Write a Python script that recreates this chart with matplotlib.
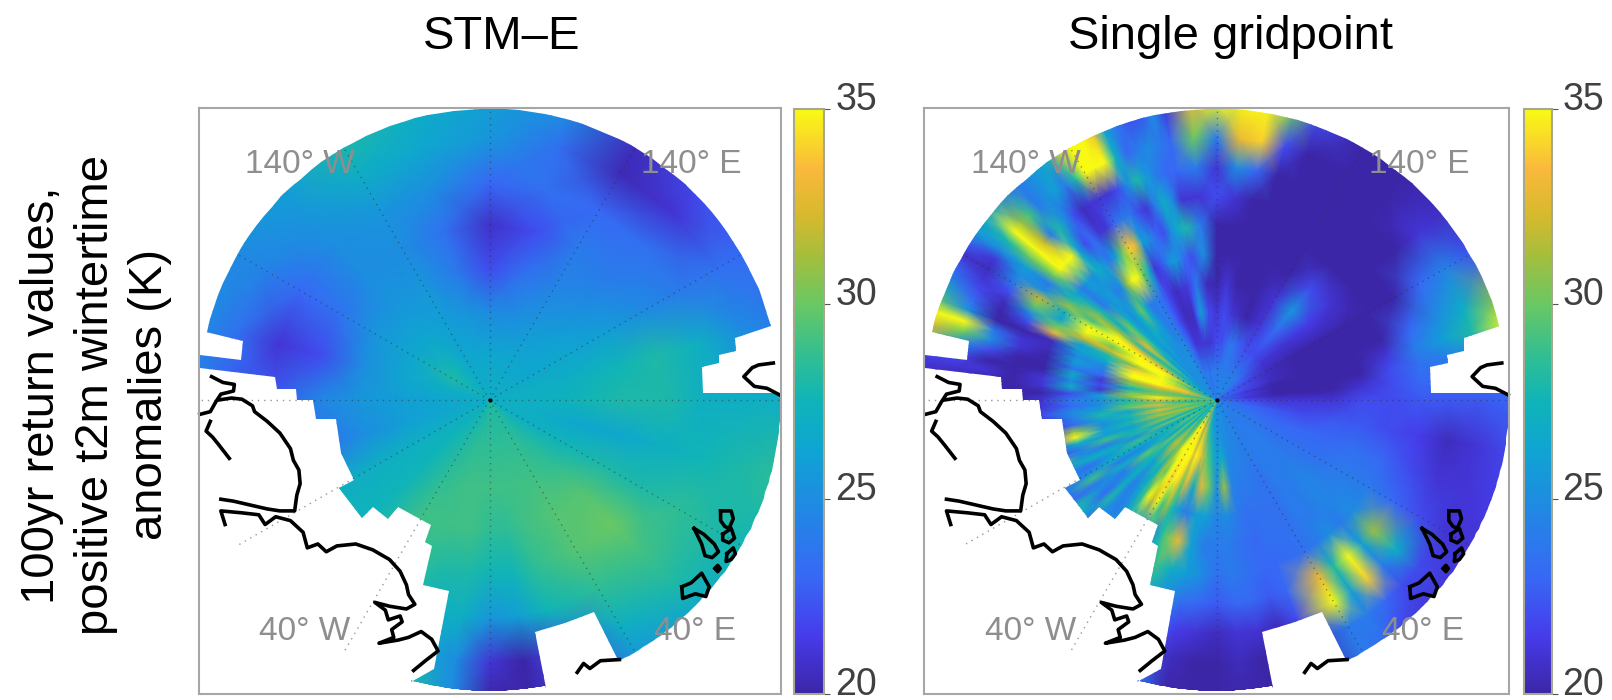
import numpy as np
import matplotlib
matplotlib.use('Agg')
import matplotlib.pyplot as plt
from matplotlib.colors import LinearSegmentedColormap
from matplotlib.patches import PathPatch
from matplotlib.path import Path

plt.rcParams['font.family'] = ['Liberation Sans', 'DejaVu Sans']

W, H = 1612, 700

# clock angle (deg from top, clockwise) and radius fraction of the map
stm_phi = [0, 15, 30, 45, 60, 75, 90, 105, 120, 135, 150, 165, 172.5, 180, 187.5, 195, 210, 225, 240, 255, 270, 285, 300, 315, 330, 345]
stm_r = [0, .15, .3, .45, .6, .75, .9, 1.03]
stm_values = [
    [27, 26.5, 25, 22, 20.8, 23, 25.5, 26],
    [27, 26.5, 25, 23.5, 22, 23.5, 23.5, 25],
    [27, 26.5, 25.5, 24.5, 24, 23, 20.3, 20.5],
    [27, 26.5, 26, 25, 24, 23.5, 21, 22],
    [27, 26.5, 26.5, 26, 25, 24, 23.5, 23],
    [27, 27, 27, 27.5, 28, 27, 25, 24],
    [27, 27, 27.5, 28, 28, 27, 27, 27],
    [27, 27, 26.5, 26.5, 27, 27.5, 28, 28.5],
    [27, 27, 27.5, 28, 28, 28.5, 28, 27.5],
    [27.5, 28, 28.5, 29.5, 30, 29, 28, 26.5],
    [28, 28.5, 29, 29.5, 29.5, 28.5, 27, 25.5],
    [28, 28.5, 29, 29, 28.5, 27.5, 22, 21],
    [28, 28.5, 29, 28.5, 27.5, 26, 20, 20],
    [28, 28.5, 29, 28.5, 27.5, 25.5, 21, 20],
    [28, 28.5, 29, 29, 28, 27, 25, 25],
    [27.5, 28.5, 29, 29, 28, 27, 26.5, 28],
    [27.5, 28, 28.5, 29, 29, 28, 27.5, 27],
    [27, 27.5, 27.5, 27.5, 27.5, 26.5, 26, 26],
    [27, 27, 27, 27, 27, 27, 27, 27],
    [27, 26.5, 26, 25, 23.5, 22, 22, 22],
    [27, 26.5, 26, 25.5, 24.5, 22.5, 22.5, 24],
    [27, 27, 26.5, 25, 22, 21, 23.5, 25],
    [27, 28, 26.5, 25.5, 23.5, 23, 24.5, 25],
    [27, 27.5, 26.5, 25.5, 25, 25, 25.5, 26],
    [27, 26.5, 26, 25.5, 25, 25.5, 27, 28],
    [27, 26.5, 25.5, 24, 23.5, 25, 26.5, 27],
]

single_phi = [0, 5, 10, 15, 20, 30, 40, 50, 60, 70, 75, 80, 85, 90, 100, 110, 120, 130, 135, 140, 145, 150, 160, 165, 170, 175,
              180, 185, 190, 195, 200, 205, 210, 215, 220, 225, 230, 235, 240, 245, 250, 255, 260, 265, 270, 275,
              280, 285, 290, 295, 300, 305, 310, 315, 320, 325, 330, 335, 340, 345, 350, 355]
single_r = [0, .1, .2, .3, .4, .5, .6, .7, .8, .9, 1.03]
single_values = [
    [24, 24, 22, 21, 20, 20, 20, 22, 21, 24, 38],
    [25, 24, 22, 22, 21, 20, 20, 21, 25, 33, 38],
    [25, 24, 23, 21, 20, 20, 20, 20, 23, 34, 38],
    [25, 24, 24, 20.5, 20, 20, 20, 20, 20, 22, 30],
    [25, 24, 23, 20, 20, 20, 20, 20, 20, 20, 22],
    [25, 24, 22, 21, 21, 20, 20, 20, 20, 20, 20],
    [25, 24, 22, 23, 25.5, 22, 20, 20, 20, 20, 20],
    [24, 23, 21, 21, 21.5, 21, 20, 20, 20, 21, 20.5],
    [24, 22, 20.5, 20, 20, 20, 20, 20, 23, 24.5, 22],
    [24, 22, 20.5, 20, 20, 20, 20, 23, 25, 27, 31],
    [24, 21, 20, 20, 20, 20, 21, 24, 26, 28, 38],
    [24, 21.5, 20, 20, 20, 20, 22, 23.5, 24, 25, 26],
    [24, 21, 20, 20, 20, 21, 22, 23, 23, 24, 24],
    [24, 22, 21, 21, 21, 22, 22, 22.5, 22.5, 22.5, 23],
    [24, 23, 22.5, 22, 22.5, 22.5, 22, 21.5, 20.5, 21, 22],
    [24, 23.5, 23, 23, 23, 23.5, 23, 22, 21, 21, 21.5],
    [24.5, 24, 23.5, 23.5, 23.5, 24, 24, 23, 22, 21, 21],
    [24.5, 24, 24, 24, 24.5, 24.5, 25, 31, 27, 22, 21],
    [24.5, 24, 24, 24, 24.5, 24.5, 24, 26, 24, 22, 21],
    [24.5, 24, 24, 24, 24, 24, 25, 38, 34, 23, 21.5],
    [24.5, 24, 24, 24, 24, 24, 24, 28, 26, 24, 23],
    [25, 24.5, 24, 23.5, 23.5, 23.5, 23.5, 33, 36, 24, 24],
    [25, 24.5, 24.5, 24, 23.5, 23.5, 23, 23, 22, 20.5, 20],
    [25, 25, 24.5, 24, 23.5, 23, 23, 22.5, 20.5, 20, 20],
    [25, 25, 25, 24.5, 24, 23.5, 23.5, 23, 21, 20, 20],
    [25, 25, 27, 31, 25, 24, 24, 23, 21, 20.5, 20],
    [25, 25, 25.5, 25, 24.5, 24, 23.5, 22.5, 20.5, 20, 20],
    [25, 26, 28, 30, 26, 24, 25, 23, 21, 20, 20],
    [25, 27, 30, 33, 26, 26, 26, 23.5, 21.5, 20.5, 20],
    [26, 29, 33, 27, 24, 33, 27, 25, 23, 21, 24],
    [26, 33, 38, 33, 26, 30, 29, 27, 24, 22, 24],
    [27, 33, 38, 34, 31, 25, 29, 26, 26, 25, 25],
    [27, 34, 38, 34, 38, 25, 27, 26, 26, 25, 25],
    [27, 30, 36, 30, 38, 26, 26, 26, 26, 26, 26],
    [28, 28, 30, 27, 27, 25, 24, 26, 26, 26, 26],
    [27, 27, 31, 26, 24, 25, 25, 25, 25, 25, 25],
    [28, 30, 30, 28, 25, 23, 27, 27, 27, 27, 27],
    [29, 29, 28, 26, 27, 24, 23, 23, 23, 23, 23],
    [27, 27, 28, 27, 27, 25, 24, 24, 24, 24, 24],
    [29, 30, 30, 25, 27, 27, 24, 24, 24, 24, 24],
    [28, 29, 31, 27, 29, 24, 22, 22, 22, 22, 22],
    [29, 31, 32, 28, 26, 36, 22, 22, 22, 22, 22],
    [28, 30, 33, 28, 26, 23, 21, 21, 21, 21, 21],
    [29, 29, 33, 30, 26, 25, 22, 21, 21, 21, 21],
    [27, 30, 33, 28, 25, 24, 21, 20, 20, 20, 20],
    [29, 31, 31, 30, 21, 27, 21, 20, 20, 20, 21],
    [28, 30, 31, 30, 21, 27, 20, 20, 20, 22, 22],
    [28, 33, 38, 38, 24, 26, 20, 21, 25, 30, 33],
    [27, 30, 38, 34, 27, 26, 20.5, 20, 20, 25, 30],
    [26, 28, 38, 38, 32, 32, 30, 25, 20.5, 22, 25],
    [26, 27, 33, 38, 36, 36, 27, 32, 24, 20.5, 21],
    [26, 26, 28, 28, 31, 31, 28, 24, 26, 25, 26],
    [25, 25, 26, 30, 30, 24, 24, 36, 36, 35, 26],
    [25, 25, 25, 26, 25, 26, 25, 37, 24, 29, 24],
    [25, 25, 25, 26, 30, 25, 26, 22, 25, 25, 25],
    [25, 25, 25, 25, 24, 36, 26, 21, 20.5, 24, 28],
    [25, 25, 25, 24, 24, 30, 34, 23, 21, 36, 38],
    [24, 24, 23, 22, 22, 21, 26, 24, 22, 37, 33],
    [24, 24, 21, 20.5, 20.5, 24, 23, 21, 28, 23, 24],
    [24, 24, 21, 20.5, 21, 25, 25, 27, 24, 25, 22],
    [24, 24, 21, 26, 24, 22, 28, 21, 23, 23, 21],
    [24, 24, 21, 22, 20.5, 25, 24, 21, 24, 30, 33],
]

# in-between angles of the west side, where the streaks are narrow
single_fine_phi = [202.5, 207.5, 212.5, 217.5, 222.5, 227.5, 232.5, 237.5, 242.5, 247.5, 252.5, 257.5, 262.5, 267.5,
                   272.5, 277.5, 282.5, 287.5, 292.5, 297.5, 302.5, 307.5, 312.5, 317.5, 322.5, 327.5, 332.5, 337.5,
                   342.5, 347.5]
single_fine_values = [
    [26, 30, 33, 30, 28, 28, 27, 25, 24, 23, 24],
    [27, 38, 38, 38, 29, 29, 27, 26, 26, 25, 25],
    [27, 38, 38, 38, 32, 27, 26, 26, 26, 25, 25],
    [27, 29, 31, 31, 29, 27, 23, 25, 26, 26, 26],
    [27, 30, 32, 28, 25, 24, 26, 25, 25, 25, 25],
    [28, 27, 28, 27, 27, 28, 24, 24, 24, 24, 24],
    [28, 27, 26, 30, 24, 25, 28, 23, 23, 23, 23],
    [28, 30, 27, 25, 24, 29, 24, 24, 24, 24, 24],
    [28, 28, 26, 29, 26, 23, 26, 24, 24, 24, 24],
    [28, 27, 27, 28, 24, 25, 30, 23, 23, 23, 23],
    [28, 31, 29, 26, 26, 27, 22, 22, 22, 22, 22],
    [28, 29, 30, 27, 25, 31, 22, 22, 22, 22, 22],
    [28, 31, 30, 26, 28, 24, 21, 21, 21, 21, 21],
    [28, 28, 30, 29, 25, 23, 21, 21, 20, 20, 20],
    [28, 31, 36, 31, 26, 22, 20, 20, 20, 20, 20],
    [28, 29, 30, 27, 22, 25, 21, 20, 21, 21, 21],
    [28, 32, 33, 31, 23, 24, 20, 20, 22, 25, 31],
    [27, 33, 38, 38, 25, 25, 20.5, 21, 24, 36, 38],
    [27, 30, 35, 31, 28, 26, 33, 22, 20, 23, 28],
    [26, 31, 38, 38, 30, 36, 26, 30, 22, 21, 23],
    [26, 28, 30, 33, 38, 29, 31, 25, 25, 21, 23],
    [25, 27, 30, 33, 27, 28, 26, 30, 30, 28, 26],
    [25, 26, 27, 27, 27, 25, 26, 38, 32, 31, 25],
    [25, 25, 26, 27, 27, 24, 27, 26, 28, 24, 24],
    [25, 25, 25, 26, 27, 31, 24, 23, 22, 26, 26],
    [25, 25, 25, 24, 24, 38, 30, 21, 21, 28, 34],
    [25, 24, 24, 23, 23, 27, 33, 24, 21, 36, 38],
    [24, 24, 22, 21, 21, 22, 25, 22, 25, 27, 26],
    [24, 24, 21, 20.5, 21, 26, 22, 24, 26, 24, 22],
    [24, 23, 21, 23, 22, 23, 27, 25, 23, 24, 25],
]

# colour scale
bar_stops = [0, .1, .2, .33, .42, .5, .58, .667, .75, .82, .9, 1]
bar_colors = ['#3c26a8', '#463ceb', '#3769f5', '#1e8ce1', '#0fa5d2', '#0fb4b9',
              '#32be91', '#69c864', '#a5be3c', '#d7b92d', '#fab93c', '#f8fa14']
bar_ticks = [20, 25, 30, 35]

# outline of the filled area, in pixels of a crop of the left map
# each break is a piece of the rim between two clock angles
notch_right = [(1405, 605), (1320, 635), (1322, 670), (1280, 680), (1282, 700), (1240, 710), (1243, 778), (1427, 778)]
notch_lower_right = [(1045, 1468), (985, 1340), (915, 1368), (845, 1390), (870, 1535)]
notch_left = [(550, 1520), (605, 1485), (640, 1285), (580, 1270), (600, 1170), (585, 1160), (598, 1115),
              (520, 1070), (497, 1100), (460, 1070), (435, 1097), (380, 1022), (415, 1000), (385, 930),
              (372, 845), (325, 845), (318, 795), (280, 795), (278, 768), (232, 768), (228, 737),
              (50, 712), (50, 680), (148, 692), (152, 643), (65, 620)]
rim_arcs = [(88.7, 153.6), (169, 195.6), (283.5, 435.3)]

coast_lines = [
    [(1410, 700), (1375, 705), (1360, 712), (1340, 735), (1365, 760), (1395, 765), (1425, 782)],
    [(78, 735), (105, 750), (132, 755), (130, 772), (100, 780), (88, 800), (75, 825), (50, 832)],
    [(95, 795), (125, 790), (150, 793), (175, 810), (180, 825), (210, 850), (240, 880), (265, 920), (272, 950),
     (285, 975), (288, 1010), (280, 1040), (275, 1080), (240, 1080), (210, 1075), (170, 1065), (130, 1055), (100, 1050)],
    [(75, 850), (65, 875), (80, 890), (95, 910), (120, 945)],
    [(110, 1115), (100, 1080), (150, 1085), (190, 1090), (205, 1115), (230, 1095), (265, 1105), (295, 1135),
     (305, 1175), (330, 1165), (350, 1185), (375, 1170), (420, 1165), (460, 1180), (500, 1205), (525, 1235),
     (540, 1270), (545, 1295), (560, 1320), (540, 1332), (500, 1325), (465, 1315), (490, 1335), (497, 1360),
     (525, 1350), (530, 1365), (505, 1385), (510, 1405), (475, 1420), (520, 1412), (545, 1405), (575, 1390),
     (600, 1410), (615, 1440), (585, 1465), (557, 1490)],
    [(945, 1495), (960, 1472), (975, 1485), (1000, 1465), (1045, 1462)],
    [(1285, 1080), (1310, 1080), (1315, 1100), (1305, 1125), (1295, 1120), (1285, 1105), (1285, 1080)],
    [(1290, 1140), (1310, 1125), (1318, 1150), (1305, 1162), (1290, 1155), (1290, 1140)],
    [(1222, 1125), (1245, 1140), (1270, 1165), (1280, 1185), (1265, 1200), (1248, 1195), (1240, 1165), (1222, 1125)],
    [(1300, 1190), (1315, 1175), (1320, 1190), (1310, 1205), (1298, 1210), (1300, 1190)],
    [(1272, 1228), (1278, 1220), (1284, 1228), (1278, 1236), (1272, 1228)],
    [(1193, 1275), (1215, 1265), (1240, 1240), (1258, 1275), (1250, 1300), (1225, 1293), (1195, 1305), (1193, 1275)],
]

lon_labels = ['140° W', '140° E', '40° W', '40° E']
lon_label_pos = [(288, 190), (1215, 190), (298, 1390), (1225, 1390)]
grid_phi = list(range(0, 360, 30))


def crop_xy(points):
    p = np.array(points, dtype=float)
    return (p[:, 0] - 737) / 690, (795 - p[:, 1]) / 748


def rim(a, b):
    t = np.radians(np.linspace(a, b, 60))
    return np.column_stack([np.sin(t), np.cos(t)])


def outline():
    # goes clockwise round the map
    pieces = [np.column_stack(crop_xy(notch_right)), rim(*rim_arcs[0]),
              np.column_stack(crop_xy(notch_lower_right)), rim(*rim_arcs[1]),
              np.column_stack(crop_xy(notch_left)), rim(*rim_arcs[2])]
    v = np.vstack(pieces)
    return Path(np.vstack([v, v[:1]]), closed=True)


def box(x0, x1, y0, y1):
    return fig.add_axes([x0 / W, 1 - y1 / H, (x1 - x0) / W, (y1 - y0) / H])


def draw_map(ax, cax, phi, r, values, title, title_x):
    order = np.argsort(phi)
    z = np.array(values, dtype=float)[order]
    z = np.vstack([z, z[:1]])
    t = np.radians(np.append(np.array(phi, dtype=float)[order], 360.0))
    rr = np.array(r)
    x = np.outer(np.sin(t), rr)
    y = np.outer(np.cos(t), rr)
    mesh = ax.pcolormesh(x, y, z, shading='gouraud', cmap=parula, vmin=20, vmax=35)
    patch = PathPatch(outline(), transform=ax.transData, fc='none', ec='none')
    ax.add_patch(patch)
    mesh.set_clip_path(patch)

    for a in grid_phi:
        ax.plot([0, np.sin(np.radians(a))], [0, np.cos(np.radians(a))], color='#303030', lw=1.0,
                ls=(0, (1, 3.5)), alpha=0.5)
    ax.plot([0], [0], 'o', color='k', ms=2)
    for line in coast_lines:
        cx, cy = crop_xy(line)
        ax.plot(cx, cy, color='k', lw=2.6, solid_joinstyle='round', clip_on=False)
    for txt, pos in zip(lon_labels, lon_label_pos):
        cx, cy = crop_xy([pos])
        ax.text(cx[0], cy[0], txt, color='#8e8e8e', fontsize=24, ha='center', va='center')

    ax.set_xlim(-1, 1)
    ax.set_ylim(-1.01, 1.003)
    ax.set_xticks([])
    ax.set_yticks([])
    for s in ax.spines.values():
        s.set_color('#a6a6a6')
        s.set_linewidth(1.5)
    fig.text(title_x / W, 1 - 49 / H, title, fontsize=34, ha='center', va='baseline')

    cb = fig.colorbar(mesh, cax=cax)
    cb.set_ticks(bar_ticks)
    cb.set_ticklabels([])
    cb.ax.tick_params(length=4, width=0.8, color='#555555', direction='out')
    cb.outline.set_edgecolor('#a8a890')
    cb.outline.set_linewidth(1.5)
    for v in bar_ticks:
        # labels sit a little above their ticks in the picture
        cax.annotate(str(v), (1, v), xycoords=('axes fraction', 'data'), xytext=(8, 6.5), textcoords='offset points',
                     fontsize=27, color='#404040', va='center', ha='left', annotation_clip=False)


parula = LinearSegmentedColormap.from_list('parula_like', list(zip(bar_stops, bar_colors)), N=256)

fig = plt.figure(figsize=(W / 100, H / 100), dpi=100)

draw_map(box(198.5, 780.5, 108, 694), box(794, 824, 109, 694), stm_phi, stm_r, stm_values, 'STM–E', 502)
draw_map(box(924, 1509, 108, 694), box(1524, 1551.5, 109, 694), single_phi + single_fine_phi,
         single_r, single_values + single_fine_values, 'Single gridpoint', 1230)

fig.text(96 / W, 1 - 395 / H, '100yr return values,\npositive t2m wintertime\nanomalies (K)', rotation=90,
         fontsize=34, ha='center', va='center', multialignment='center', linespacing=1.28)

fig.savefig('out.png', dpi=100)
